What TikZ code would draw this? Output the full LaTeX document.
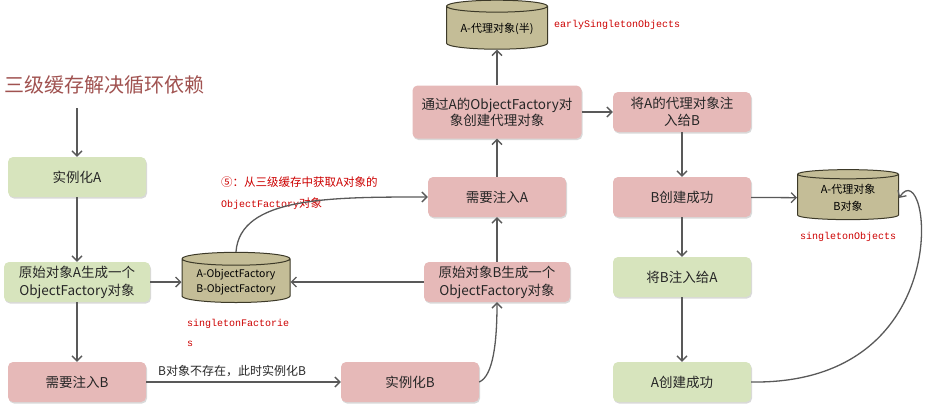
\documentclass[tikz,border=0pt]{standalone}
\usepackage{fontspec}
\setmainfont{Noto Sans CJK SC}
\setmonofont{Liberation Mono}
\usetikzlibrary{arrows.meta, shapes.geometric, shadows}

\definecolor{boxgreen}{RGB}{215,228,189}
\definecolor{boxpink}{RGB}{230,185,184}
\definecolor{drum}{RGB}{196,189,151}
\definecolor{drumline}{RGB}{60,57,40}
\definecolor{linegray}{RGB}{89,89,89}
\definecolor{labelred}{RGB}{204,0,0}
\definecolor{titlered}{RGB}{160,82,80}

\begin{document}
\begin{tikzpicture}[x=1pt, y=-1pt]

\tikzset{box/.style = {shape=rectangle, rounded corners=5pt, minimum width=138pt, minimum height=40pt, align=center, text=black!85, font=\fontsize{13.5}{18}\selectfont, drop shadow={shadow xshift=1pt, shadow yshift=-1.5pt, opacity=0.3}}}
\tikzset{greenbox/.style = {box, fill=boxgreen}}
\tikzset{pinkbox/.style = {box, fill=boxpink}}
\tikzset{drumbox/.style = {shape=cylinder, shape border rotate=90, aspect=0.15, draw=drumline, line width=1pt, fill=drum, align=center, minimum width=105pt, minimum height=46pt, font=\fontsize{10.5}{15}\selectfont}}
\tikzset{tip/.style = {text=labelred, inner sep=0pt}}
\tikzset{link/.style = {->, > = {Straight Barb[length=5pt,width=10pt]}, draw=linegray, line width=1.3pt}}

\useasboundingbox (0,0) rectangle (928,408);

%title
\node[font=\fontsize{20}{24}\selectfont, text=titlered, anchor=west, inner sep=0pt] (title) at (4,85) {三级缓存解决循环依赖};
\coordinate (start) at (77,108);
%steps
\node[greenbox] (instA) at (77,177) {实例化A};
\node[greenbox, minimum width=146pt] (rawA) at (77,282) {原始对象A生成一个\\ObjectFactory对象};
\node[pinkbox] (needB) at (77,382) {需要注入B};
\node[pinkbox] (instB) at (410,382) {实例化B};
\node[pinkbox, minimum width=146pt] (rawB) at (497,282) {原始对象B生成一个\\ObjectFactory对象};
\node[pinkbox] (needA) at (497,197) {需要注入A};
\node[pinkbox, minimum width=169pt, minimum height=53pt, font=\fontsize{13.5}{16}\selectfont] (proxy) at (497,112) {通过A的ObjectFactory对\\象创建代理对象};
\node[pinkbox, font=\fontsize{13.5}{17}\selectfont] (giveB) at (682,112) {将A的代理对象注\\入给B};
\node[pinkbox] (doneB) at (682,197) {B创建成功};
\node[greenbox] (giveA) at (682,277) {将B注入给A};
\node[greenbox] (doneA) at (682,382) {A创建成功};
%caches
\node[drumbox, minimum width=108pt, minimum height=45pt] (sf) at (236,282) {A-ObjectFactory\\B-ObjectFactory};
\node[drumbox, minimum width=101pt, minimum height=49pt, font=\fontsize{11}{15}\selectfont] (es) at (497,29) {A-代理对象(半)};
\node[drumbox, minimum width=101pt, minimum height=50pt, font=\fontsize{11}{17}\selectfont] (so) at (848,198) {A-代理对象\\B对象};
%labels
\node[tip, anchor=west, align=left, font=\fontsize{11.5}{21}\selectfont] (hint) at (221,193) {⑤：从三级缓存中获取A对象的\\{\ttfamily\fontsize{10}{21}\selectfont ObjectFactory}对象};
\node[tip, anchor=west, align=left, font=\ttfamily\fontsize{10}{20}\selectfont] (sfname) at (187,333) {singletonFactorie\\s};
\node[tip, anchor=west, font=\ttfamily\fontsize{10}{12}\selectfont] (esname) at (554,25) {earlySingletonObjects};
\node[tip, font=\ttfamily\fontsize{10}{12}\selectfont] (soname) at (848,237) {singletonObjects};
\node[anchor=west, inner sep=0pt, text=black!85, font=\fontsize{12}{14}\selectfont] (miss) at (158,371) {B对象不存在，此时实例化B};
%arrows
\draw[link] (start) -- (instA);
\draw[link] (instA) -- (rawA);
\draw[link] (rawA) -- (needB);
\draw[link] (rawA) -- (sf);
\draw[link] (rawB) -- (sf);
\draw[link] (needB) -- (instB);
\draw[link] (instB.east) .. controls +(14,-6) and +(0,40) .. (rawB.south);
\draw[link] (rawB) -- (needA);
\draw[link] (needA) -- (proxy);
\draw[link] (proxy) -- (es);
\draw[link] (proxy) -- (giveB);
\draw[link] (giveB) -- (doneB);
\draw[link] (doneB) -- (so);
\draw[link] (doneB) -- (giveA);
\draw[link] (giveA) -- (doneA);
\draw[link] (sf.90) .. controls +(4,-55) and +(-98,0) .. (needA.west);
\draw[link] (doneA.east) .. controls +(210,3) and +(31,-48) .. (so.0);

\end{tikzpicture}
\end{document}
